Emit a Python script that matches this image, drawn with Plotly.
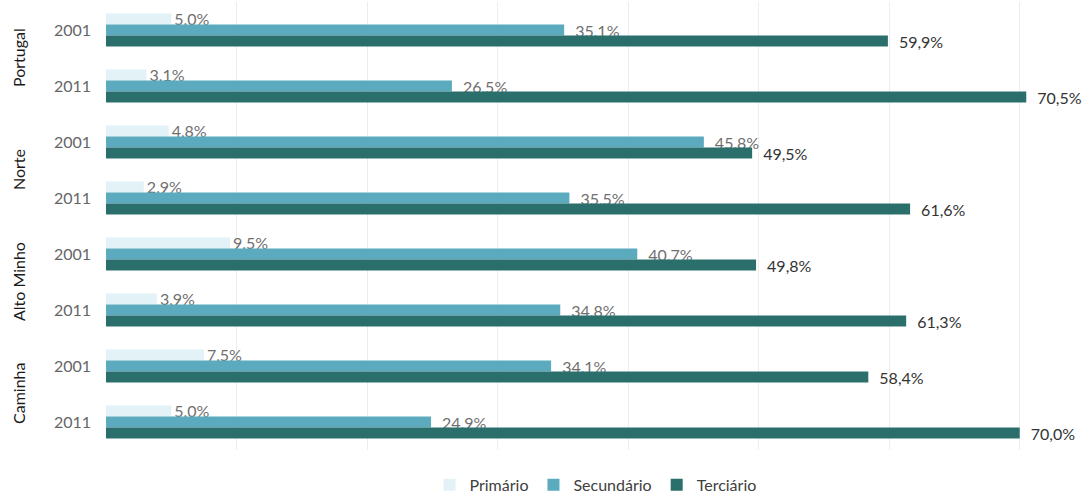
import plotly.graph_objects as go

regions = ["Portugal", "Norte", "Alto Minho", "Caminha"]
years = ["2001", "2011"]
categories = [f"{r} {y}" for r in regions for y in years]
year_labels = [y for r in regions for y in years]

primario = [5.0, 3.1, 4.8, 2.9, 9.5, 3.9, 7.5, 5.0]
secundario = [35.1, 26.5, 45.8, 35.5, 40.7, 34.8, 34.1, 24.9]
terciario = [59.9, 70.5, 49.5, 61.6, 49.8, 61.3, 58.4, 70.0]

series = [
    ("Primário", primario, "#e2f2f6", "#6f6f6f", ""),
    ("Secundário", secundario, "#5baabe", "#6f6f6f", "\u2002"),
    ("Terciário", terciario, "#2a6f6c", "#333333", "\u2002"),
]


def fmt(v):
    return f"{v:.1f}%".replace(".", ",")


fig = go.Figure()
for name, vals, color, tcolor, pad in series:
    fig.add_trace(go.Bar(
        name=name, x=vals, y=categories, orientation="h",
        marker=dict(color=color, line=dict(width=0)),
        text=[pad + fmt(v) for v in vals], textposition="outside",
        textfont=dict(family="Lato", size=16, color=tcolor),
        constraintext="none", cliponaxis=False,
    ))

font = "Lato"
annotations = []
for i, r in enumerate(regions):
    annotations.append(dict(
        x=0, xref="paper", xanchor="center", xshift=-88,
        y=2 * i + 0.5, yref="y", text=r, textangle=-90, showarrow=False,
        font=dict(family=font, size=16, color="#1a1a1a"),
    ))

fig.update_layout(
    width=1091, height=497,
    margin=dict(l=106, r=6, t=2, b=47, autoexpand=False),
    paper_bgcolor="white", plot_bgcolor="white",
    barmode="group", bargap=0.41, bargroupgap=0,
    font=dict(family=font, size=16, color="#595959"),
    xaxis=dict(range=[0, 75], dtick=10, showgrid=True, gridcolor="#ededed",
               gridwidth=1, showticklabels=False, zeroline=False, showline=False,
               automargin=False),
    yaxis=dict(autorange="reversed", tickmode="array", tickvals=categories,
               ticktext=year_labels, ticks="", ticklen=0, ticklabelstandoff=14,
               tickfont=dict(family=font, size=16, color="#666666"),
               showgrid=False, zeroline=False, showline=False, automargin=False),
    legend=dict(orientation="h", x=0.5, xanchor="center", y=-0.078,
                yanchor="middle", font=dict(family=font, size=16, color="#404040"),
                traceorder="normal", itemwidth=30, itemsizing="constant"),
    annotations=annotations,
    showlegend=True,
)

fig.write_html(
    "out.html",
    config={"displayModeBar": False},
    post_script="document.body.style.margin='0';document.body.style.overflow='hidden';",
)
